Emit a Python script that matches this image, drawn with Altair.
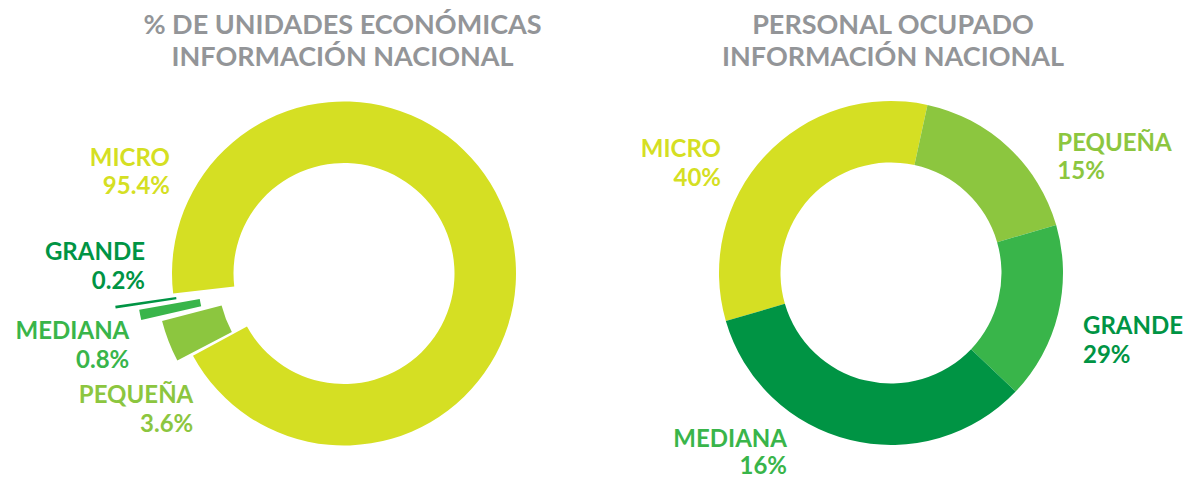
import math
import altair as alt
import pandas as pd

# ---------------- data ----------------
left_cats = ["MICRO", "PEQUEÑA", "MEDIANA", "GRANDE"]
left_values = [95.4, 3.6, 0.8, 0.2]
left_pct = ["95.4%", "3.6%", "0.8%", "0.2%"]

right_cats = ["MICRO", "PEQUEÑA", "MEDIANA", "GRANDE"]
right_values = [32.9, 17.1, 16.6, 33.4]   # slice sizes as drawn
right_pct = ["40%", "15%", "16%", "29%"]  # printed labels

left_title = ["% DE UNIDADES ECONÓMICAS", "INFORMACIÓN NACIONAL"]
right_title = ["PERSONAL OCUPADO", "INFORMACIÓN NACIONAL"]

# ---------------- style ----------------
COLORS = {"MICRO": "#D5DF23", "PEQUEÑA": "#8CC63F",
          "MEDIANA": "#39B54A", "GRANDE": "#009444"}
TITLE_COLOR = "#939598"
FONT = "Lato"
W, H = 1176, 469
R_IN, R_OUT = 110.5, 172
DEG = math.pi / 180
theta_scale = alt.Scale(domain=[0, 100], range=[0, 2 * math.pi])

# per-slice (explode px, start offset deg, end offset deg)
left_style = {"MICRO": (0, 263.3, 257.96), "PEQUEÑA": (16, 259, 259),
              "MEDIANA": (36, 260.7, 260.7), "GRANDE": (59, 262, 262)}
right_style = {c: (0, 253.8, 253.8) for c in right_cats}

LEFT_C = (336, 265.5)
RIGHT_C = (883, 265)

# label anchor positions (x, baseline of first line, line gap, align)
left_lab_pos = {"MICRO": (162, 157.7, 28.7, "right"), "PEQUEÑA": (185.3, 395.3, 28.7, "right"),
                "MEDIANA": (121.3, 331, 28.7, "right"), "GRANDE": (137, 252, 28.7, "right")}
right_lab_pos = {"MICRO": (713, 149, 28.7, "right"), "PEQUEÑA": (1049.3, 142.7, 28.7, "left"),
                 "MEDIANA": (779, 439, 26.5, "right"), "GRANDE": (1075, 326, 28.7, "left")}


def donut(cats, values, style, center):
    df = pd.DataFrame({"cat": cats, "value": values, "idx": list(range(len(cats)))})
    base = (alt.Chart(df)
            .transform_window(cum="sum(value)", sort=[alt.SortField("idx")], frame=[None, 0])
            .transform_calculate(start="datum.cum - datum.value"))
    layers = []
    for cat in cats:
        ex, o1, o2 = style[cat]
        layers.append(
            base.transform_filter(alt.datum.cat == cat)
            .mark_arc(radius=R_OUT + ex, radius2=R_IN + ex,
                      thetaOffset=o1 * DEG, theta2Offset=o2 * DEG,
                      color=COLORS[cat])
            .encode(theta=alt.Theta("start:Q", scale=theta_scale),
                    theta2="cum:Q",
                    x=alt.value(center[0]), y=alt.value(center[1]))
        )
    return layers


rows = []
for cats, pcts, pos in [(left_cats, left_pct, left_lab_pos), (right_cats, right_pct, right_lab_pos)]:
    for c, p in zip(cats, pcts):
        x, y, gap, a = pos[c]
        rows.append({"text": c, "px": x, "py": y, "al": a, "col": COLORS[c]})
        rows.append({"text": p, "px": x, "py": y + gap, "al": a, "col": COLORS[c]})
lab_df = pd.DataFrame(rows)

text_layers = []
for a in ["left", "right"]:
    text_layers.append(
        alt.Chart(lab_df).transform_filter(alt.datum.al == a)
        .mark_text(align=a, baseline="alphabetic", font=FONT, fontWeight="bold", fontSize=24)
        .encode(x=alt.X("px:Q", scale=None, axis=None),
                y=alt.Y("py:Q", scale=None, axis=None),
                text="text:N",
                color=alt.Color("col:N", scale=None, legend=None))
    )

trows = []
for lines, cx in [(left_title, 334.5), (right_title, 885)]:
    for i, t in enumerate(lines):
        trows.append({"text": t, "px": cx, "py": 25.5 + 32.4 * i})
title_df = pd.DataFrame(trows)
title_layer = (alt.Chart(title_df)
               .mark_text(align="center", baseline="alphabetic", font=FONT,
                          fontWeight="bold", fontSize=27, color=TITLE_COLOR)
               .encode(x=alt.X("px:Q", scale=None, axis=None),
                       y=alt.Y("py:Q", scale=None, axis=None),
                       text="text:N"))

chart = alt.layer(
    *donut(left_cats, left_values, left_style, LEFT_C),
    *donut(right_cats, right_values, right_style, RIGHT_C),
    *text_layers, title_layer
).properties(width=W, height=H, autosize="none", padding=0, background="white"
).configure_view(stroke=None)

chart.save("out.html", embed_options={"renderer": "svg", "actions": False})
